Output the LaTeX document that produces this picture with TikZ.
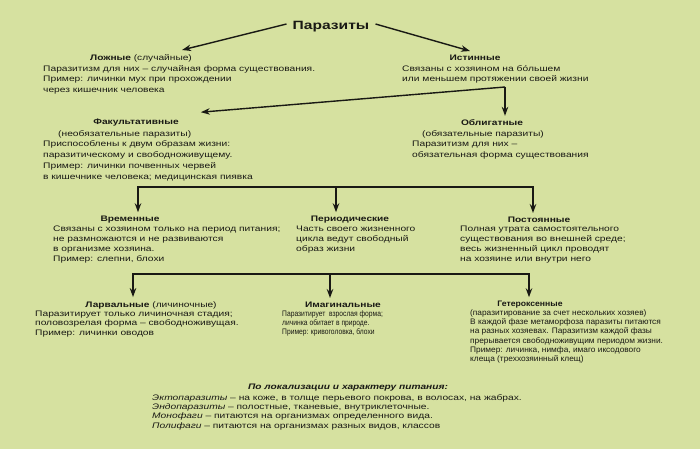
\documentclass[tikz,border=0pt]{standalone}
\usepackage{fontspec}
\setmainfont{Liberation Sans}
\newfontfamily\fw[FakeStretch=1.28]{Liberation Sans}
\newfontfamily\ft[FakeStretch=1.27]{Liberation Sans}
\newfontfamily\fpar[FakeStretch=1.3]{Liberation Sans}
\newfontfamily\fg[FakeStretch=1.08]{Liberation Sans}
\newfontfamily\fn[FakeStretch=0.84]{Liberation Sans}
\newfontfamily\fnn[FakeStretch=1.04]{Liberation Sans}
\usetikzlibrary{arrows.meta}
\definecolor{bg}{RGB}{214,225,160}
\definecolor{ink}{RGB}{25,25,20}
\begin{document}
\begin{tikzpicture}[x=1pt,y=-1pt,
  arr/.style={-{Stealth[length=9pt,width=6.5pt]}, line width=1.4pt, draw=ink},
  barline/.style={line width=1.4pt, draw=ink},
  ttl/.style={font=\ft\fontsize{8}{10}\selectfont\bfseries, inner sep=0pt, text=ink},
  bodyA/.style={font=\fw\fontsize{8}{10.8}\selectfont, align=left, anchor=north west, inner sep=0pt, text=ink},
  bodyB/.style={font=\fw\fontsize{8}{10}\selectfont, align=left, anchor=north west, inner sep=0pt, text=ink},
  bodyC/.style={font=\fw\fontsize{8}{9.2}\selectfont, align=left, anchor=north west, inner sep=0pt, text=ink}]
\fill[bg] (0,0) rectangle (700,449);
\useasboundingbox (0,0) rectangle (700,449);

\node[ttl, font=\fpar\fontsize{12}{14}\selectfont\bfseries] (par) at (331,27) {Паразиты};

\node[ttl] (lozh) at (141,58) {Ложные \mdseries(случайные)};
\node[bodyA] (lozhb) at (43,65) {Паразитизм для них – случайная форма существования.\\Пример: личинки мух при прохождении\\через кишечник человека};

\node[ttl] (ist) at (475,58) {Истинные};
\node[bodyA] (istb) at (402,65) {Связаны с хозяином на бóльшем\\или меньшем протяжении своей жизни};

\node[ttl] (fak) at (136,123) {Факультативные};
\node[bodyA] (fakb) at (43,130) {\hspace*{15pt}(необязательные паразиты)\\Приспособлены к двум образам жизни:\\паразитическому и свободноживущему.\\Пример: личинки почвенных червей\\в кишечнике человека; медицинская пиявка};

\node[ttl] (obl) at (492,123) {Облигатные};
\node[bodyA] (oblb) at (412,130) {\hspace*{10pt}(обязательные паразиты)\\Паразитизм для них –\\обязательная форма существования};

\node[ttl] (vrem) at (130,220) {Временные};
\node[bodyB] (vremb) at (53,225.5) {Связаны с хозяином только на период питания;\\не размножаются и не развиваются\\в организме хозяина.\\Пример: слепни, блохи};

\node[ttl] (per) at (350,220) {Периодические};
\node[bodyB] (perb) at (296,226) {Часть своего жизненного\\цикла ведут свободный\\образ жизни};

\node[ttl] (post) at (539,220) {Постоянные};
\node[bodyB] (postb) at (460,226) {Полная утрата самостоятельного\\существования во внешней среде;\\весь жизненный цикл проводят\\на хозяине или внутри него};

\node[ttl] (larv) at (151,305) {Ларвальные \mdseries(личиночные)};
\node[bodyC] (larvb) at (35,311) {Паразитирует только личиночная стадия;\\половозрелая форма – свободноживущая.\\Пример: личинки оводов};

\node[ttl] (imag) at (343,305) {Имагинальные};
\node[bodyC, font=\fn\fontsize{8}{9.2}\selectfont] (imagb) at (282,310.5) {Паразитирует\ \ взрослая форма;\\личинка обитает в природе.\\Пример: кривоголовка, блохи};

\node[ttl, font=\fg\fontsize{8}{10}\selectfont\bfseries] (get) at (530,305) {Гетероксенные};
\node[bodyC, font=\fnn\fontsize{8}{9.2}\selectfont] (getb) at (470,309.5) {(паразитирование за счет нескольких хозяев)\\В каждой фазе метаморфоза паразиты питаются\\на разных хозяевах. Паразитизм каждой фазы\\прерывается свободноживущим периодом жизни.\\Пример: личинка, нимфа, имаго иксодового\\клеща (треххозяинный клещ)};

\node[ttl, font=\ft\fontsize{8}{10}\selectfont\bfseries\itshape] (loc) at (348,388) {По локализации и характеру питания:};
\node[bodyC] (locb) at (152,394.5) {\textit{Эктопаразиты} – на коже, в толще перьевого покрова, в волосах, на жабрах.\\\textit{Эндопаразиты} – полостные, тканевые, внутриклеточные.\\\textit{Монофаги} – питаются на организмах определенного вида.\\\textit{Полифаги} – питаются на организмах разных видов, классов};

% connectors
\draw[arr] ([xshift=-6pt,yshift=3pt]par.west) -- ([xshift=-10pt,yshift=4pt]lozh.north east);
\draw[arr] ([xshift=6pt,yshift=3pt]par.east) -- ([xshift=-5pt,yshift=4pt]ist.north);

\coordinate (c1) at (505,87);
\draw[arr] (c1) -- ([xshift=22pt,yshift=7pt]fak.north east);
\draw[arr, shorten >=4pt] (c1) -- (c1 |- obl.north);

\coordinate (b1l) at (138,187);
\coordinate (b1m) at (336,187);
\coordinate (b1r) at (533,187);
\draw[barline] (b1l) -- (b1r);
\draw[arr, shorten >=4pt] ([yshift=0.7pt]b1l) -- (b1l |- vrem.north);
\draw[arr, shorten >=4pt] (b1m) -- (b1m |- per.north);
\draw[arr, shorten >=4pt] ([yshift=0.7pt]b1r) -- (b1r |- post.north);

\coordinate (b2l) at (133,274);
\coordinate (b2m) at (330,274);
\coordinate (b2r) at (529,274);
\draw[barline] (b2l) -- (b2r);
\draw[arr, shorten >=4pt] ([yshift=0.7pt]b2l) -- (b2l |- larv.north);
\draw[arr, shorten >=4pt] (b2m) -- (b2m |- imag.north);
\draw[arr, shorten >=4pt] ([yshift=0.7pt]b2r) -- (b2r |- get.north);
\end{tikzpicture}
\end{document}
